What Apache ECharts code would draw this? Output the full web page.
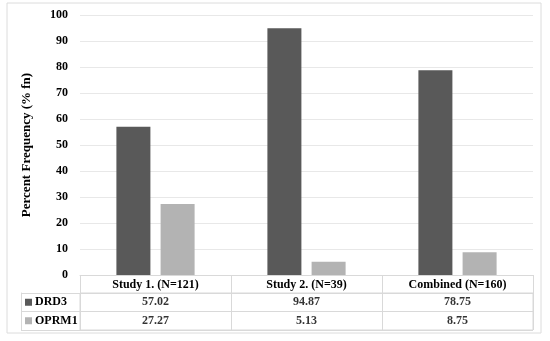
<!DOCTYPE html>
<html><head><meta charset="utf-8">
<script src="https://cdn.jsdelivr.net/npm/echarts@6/dist/echarts.min.js"></script>
<style>html,body{margin:0;padding:0;background:#fff}#c{width:550px;height:341px}</style>
</head><body><div id="c"></div>
<script>
const categories = ['Study 1. (N=121)', 'Study 2. (N=39)', 'Combined (N=160)'];
const seriesNames = ['DRD3', 'OPRM1'];
const drd3 = [57.02, 94.87, 78.75];
const oprm1 = [27.27, 5.13, 8.75];
const colors = ['#595959', '#b3b3b3'];
const FONT = 'Liberation Serif';
const lineColor = '#d9d9d9';

const tableData = [];
[drd3, oprm1].forEach((arr, r) => arr.forEach((v, i) => tableData.push([categories[i], seriesNames[r], v])));

const chart = echarts.init(document.getElementById('c'));
chart.setOption({
  animation: false,
  textStyle: { fontFamily: FONT },
  graphic: [{ type: 'rect', shape: { x: 7, y: 3, width: 534, height: 330 }, style: { fill: 'none', stroke: '#dcdcdc', lineWidth: 1 }, silent: true }],
  grid: [
    { left: 80, right: 17, top: 15, height: 260 },
    { left: 80, right: 17, top: 293, height: 37, show: true, borderColor: lineColor, borderWidth: 1 }
  ],
  xAxis: [
    { type: 'category', gridIndex: 0, data: categories,
      axisLine: { lineStyle: { color: lineColor } },
      axisTick: { show: true, length: 18, interval: 0, lineStyle: { color: lineColor } },
      axisLabel: { interval: 0, margin: 4, color: '#000', fontWeight: 'bold', fontSize: 12, fontFamily: FONT } },
    { type: 'category', gridIndex: 1, data: categories,
      axisLine: { show: false }, axisTick: { show: false }, axisLabel: { show: false },
      splitLine: { show: true, interval: 0, lineStyle: { color: lineColor } } }
  ],
  yAxis: [
    { type: 'value', gridIndex: 0, min: 0, max: 100, interval: 10,
      axisLine: { show: false }, axisTick: { show: false },
      axisLabel: { margin: 12, color: '#000', fontWeight: 'bold', fontSize: 12, fontFamily: FONT },
      splitLine: { lineStyle: { color: '#e8e8e8' } },
      name: 'Percent Frequency (% fn)', nameLocation: 'middle', nameGap: 47,
      nameTextStyle: { color: '#000', fontWeight: 'bold', fontSize: 13, fontFamily: FONT } },
    { type: 'category', gridIndex: 1, data: seriesNames, inverse: true,
      axisLine: { show: false },
      axisTick: { show: true, length: 59, interval: 0, lineStyle: { color: lineColor } },
      splitLine: { show: true, interval: 0, lineStyle: { color: lineColor } },
      axisLabel: { align: 'left', margin: 55, interval: 0,
        formatter: v => `{${v === seriesNames[0] ? 'a' : 'b'}|}{t|${v}}`,
        rich: {
          a: { backgroundColor: colors[0], width: 7, height: 7 },
          b: { backgroundColor: colors[1], width: 7, height: 7 },
          t: { padding: [0, 0, 0, 3], color: '#000', fontWeight: 'bold', fontSize: 12, fontFamily: FONT }
        } } },
    { type: 'category', gridIndex: 1, data: seriesNames, position: 'left', offset: 59,
      axisLine: { show: true, lineStyle: { color: lineColor } }, axisTick: { show: false }, axisLabel: { show: false } }
  ],
  series: [
    { name: seriesNames[0], type: 'bar', xAxisIndex: 0, yAxisIndex: 0, data: drd3, barWidth: 34, barGap: '30%', itemStyle: { color: colors[0] } },
    { name: seriesNames[1], type: 'bar', xAxisIndex: 0, yAxisIndex: 0, data: oprm1, barWidth: 34, barGap: '30%', itemStyle: { color: colors[1] } },
    { type: 'scatter', xAxisIndex: 1, yAxisIndex: 1, data: tableData, symbolSize: 0, silent: true,
      label: { show: true, position: 'inside', formatter: p => p.value[2].toFixed(2), color: '#000', fontWeight: 'bold', fontSize: 12, fontFamily: FONT } }
  ]
});
</script></body></html>
